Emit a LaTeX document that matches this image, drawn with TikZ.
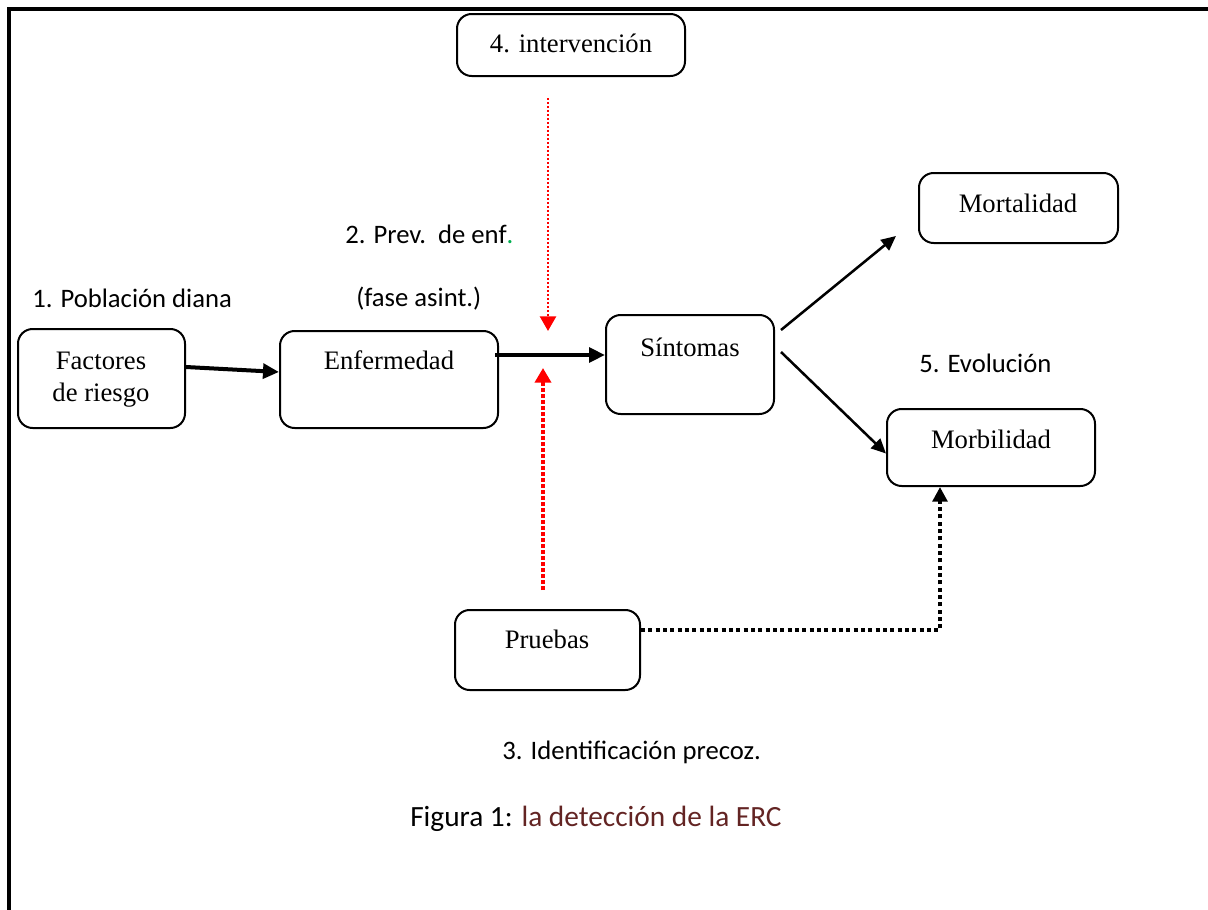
\documentclass[tikz,border=0pt]{standalone}
\usepackage{fontspec}
\setmainfont{Liberation Serif}
\newfontfamily\calfont{Carlito}
\usetikzlibrary{arrows.meta,calc,fit}
\definecolor{capred}{HTML}{632423}
\definecolor{dotgreen}{HTML}{00B050}
\begin{document}
\begin{tikzpicture}[x=0.75pt,y=-0.75pt,
  box/.style={draw, line width=1.5pt, rounded corners=11pt, inner sep=0pt},
  btxt/.style={anchor=base, inner sep=0pt, font=\fontsize{20pt}{24pt}\selectfont},
  ltxt/.style={anchor=base west, inner sep=0pt, font=\calfont\fontsize{20pt}{24pt}\selectfont},
  thickarrow/.style={line width=3pt, -{Triangle[length=12pt,width=11pt]}},
  thinarrow/.style={line width=1.9pt, -{Triangle[length=11pt,width=10pt]}},
  reddotthin/.style={red, line width=1.9pt, dash pattern=on 1.6pt off 1.4pt, -{Triangle[length=11pt,width=12pt]}},
  reddotthick/.style={red, line width=3pt, dash pattern=on 3pt off 1.5pt, -{Triangle[length=11pt,width=12pt]}},
  blackdot/.style={line width=3pt, dash pattern=on 3pt off 2.5pt, -{Triangle[length=11pt,width=11pt]}},
  frame/.style={line width=3pt}
]
\useasboundingbox (0,0) rectangle (1208,910);
\fill[white] (0,0) rectangle (1208,910);
% frame
\draw[frame] (8.7,910) -- (8.7,8.7) -- (1208,8.7);

% boxes
\node[box, fit={(18,329)(185,428)}] (fac) {};
\node[box, fit={(280,331)(498,428)}] (enf) {};
\node[box, fit={(606,315)(774,414)}] (sin) {};
\node[box, fit={(919,173)(1118,243)}] (mor) {};
\node[box, fit={(887,409)(1095,486)}] (morb) {};
\node[box, fit={(455,610)(640,690)}] (pru) {};
\node[box, fit={(457,14)(685,76)}] (int) {};

% box texts
\node[btxt] (facA) at (101,369) {Factores};
\node[btxt] (facB) at (101,401) {de riesgo};
\node[btxt] (enfT) at (389,369) {Enfermedad};
\node[btxt] (sinT) at (690,356) {Síntomas};
\node[btxt] (morT) at (1018,212) {Mortalidad};
\node[btxt] (morbT) at (991,448) {Morbilidad};
\node[btxt] (pruT) at (547,648) {Pruebas};
\node[btxt] (intT) at (571,52) {4. intervención};

% labels
\node[ltxt] (pob) at (32,307) {1. Población diana};
\node[ltxt] (prev) at (345,243) {2. Prev.\ \ de enf\textcolor{dotgreen}{.}};
\node[ltxt] (fase) at (356,306) {(fase asint.)};
\node[ltxt] (evo) at (919,372) {5. Evolución};
\node[ltxt] (ident) at (502,759) {3. Identificación precoz.};
\node[anchor=base west, inner sep=0pt, font=\calfont\fontsize{22pt}{26pt}\selectfont] (cap) at (410,826) {Figura 1: \textcolor{capred}{la detección de la ERC}};

% connectors
\draw[thickarrow] ($(fac.east)+(0,-11.5)$) -- ($(enf.west)+(0,-7.5)$);
\draw[thickarrow] ($(enf.east)+(-4,-24.5)$) -- ($(sin.west)+(0,-9.5)$);
\draw[thinarrow] ($(sin.east)+(6,-34.5)$) -- ($(mor.south west)+(-22,-8)$);
\draw[thinarrow] ($(sin.east)+(6,-12.5)$) -- ($(morb.west)+(0,6)$);
\draw[blackdot] ($(pru.east)+(0,-20)$) -| ($(morb.south)+(-51,0)$);

\coordinate (rtA) at (548,98);
\coordinate (rtB) at (548,331);
\coordinate (rbA) at (543,590);
\coordinate (rbB) at (543,368);
\draw[reddotthin] (rtA) -- (rtB);
\draw[reddotthick] (rbA) -- (rbB);
\end{tikzpicture}
\end{document}
